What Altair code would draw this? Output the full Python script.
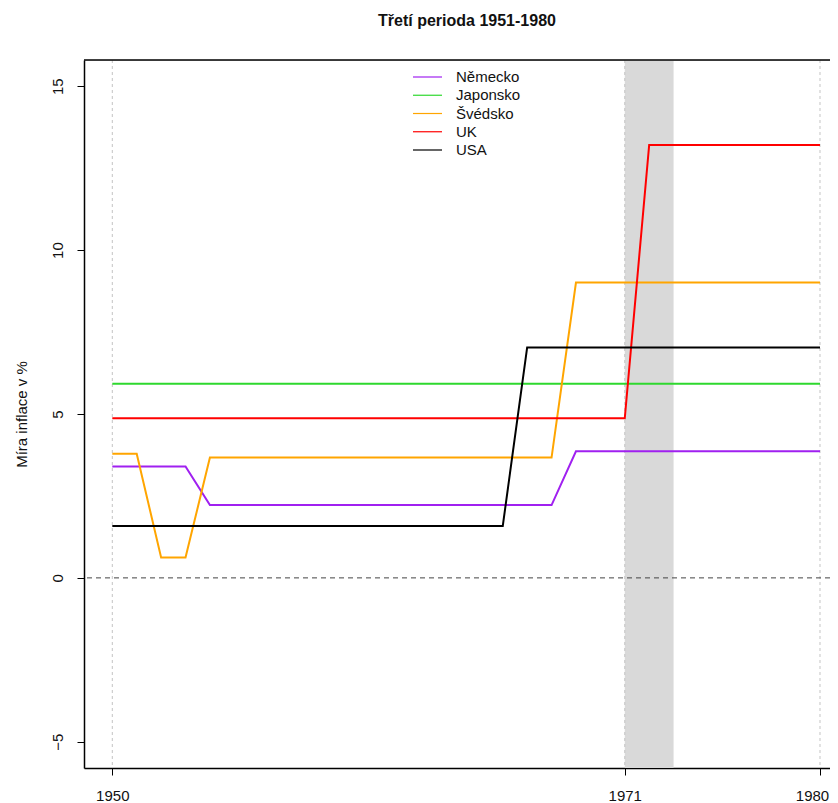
import altair as alt
import pandas as pd

# ---- data ----
countries = ["Německo", "Japonsko", "Švédsko", "UK", "USA"]
colors = ["#A020F0", "#2ED82E", "#FFA500", "#FF0000", "#000000"]

period_index = [0, 1, 2, 3, 4, 5, 6, 7, 8, 9, 10, 11, 12, 13, 14,
                15, 16, 17, 18, 19, 20, 21, 22, 23, 24, 25, 26, 27, 28, 29]

nemecko = [3.40, 3.40, 3.40, 3.40, 2.22, 2.22, 2.22, 2.22, 2.22, 2.22,
           2.22, 2.22, 2.22, 2.22, 2.22, 2.22, 2.22, 2.22, 2.22, 3.86,
           3.86, 3.86, 3.86, 3.86, 3.86, 3.86, 3.86, 3.86, 3.86, 3.86]
japonsko = [5.92, 5.92, 5.92, 5.92, 5.92, 5.92, 5.92, 5.92, 5.92, 5.92,
            5.92, 5.92, 5.92, 5.92, 5.92, 5.92, 5.92, 5.92, 5.92, 5.92,
            5.92, 5.92, 5.92, 5.92, 5.92, 5.92, 5.92, 5.92, 5.92, 5.92]
svedsko = [3.79, 3.79, 0.62, 0.62, 3.67, 3.67, 3.67, 3.67, 3.67, 3.67,
           3.67, 3.67, 3.67, 3.67, 3.67, 3.67, 3.67, 3.67, 3.67, 9.01,
           9.01, 9.01, 9.01, 9.01, 9.01, 9.01, 9.01, 9.01, 9.01, 9.01]
uk = [4.87, 4.87, 4.87, 4.87, 4.87, 4.87, 4.87, 4.87, 4.87, 4.87,
      4.87, 4.87, 4.87, 4.87, 4.87, 4.87, 4.87, 4.87, 4.87, 4.87,
      4.87, 4.87, 13.21, 13.21, 13.21, 13.21, 13.21, 13.21, 13.21, 13.21]
usa = [1.58, 1.58, 1.58, 1.58, 1.58, 1.58, 1.58, 1.58, 1.58, 1.58,
       1.58, 1.58, 1.58, 1.58, 1.58, 1.58, 1.58, 7.03, 7.03, 7.03,
       7.03, 7.03, 7.03, 7.03, 7.03, 7.03, 7.03, 7.03, 7.03, 7.03]

xtick_pos = [0, 21, 29]
xtick_labels = ["1950", "1971", "1980"]
ytick_vals = [-5, 0, 5, 10, 15]
band_start = [21]
band_end = [23]
vline_pos = [0, 21, 29]
hline_pos = [0]

title_text = "Třetí perioda 1951-1980"
ytitle_text = "Míra inflace v %"

# ---- layout ----
W, H = 746, 708
FONT = "Liberation Sans"

series = [nemecko, japonsko, svedsko, uk, usa]
rows = []
for name, vals in zip(countries, series):
    for i, v in zip(period_index, vals):
        rows.append({"country": name, "idx": i, "value": v})
df = pd.DataFrame(rows)

xscale = alt.Scale(domain=[-1.16, 29.41], nice=False, zero=False)
yscale = alt.Scale(domain=[-5.8, 15.8], nice=False, zero=False)
cscale = alt.Scale(domain=countries, range=colors)

label_expr = " : ".join(
    f"datum.value == {p} ? '{l}'" for p, l in zip(xtick_pos[:-1], xtick_labels[:-1])
) + f" : '{xtick_labels[-1]}'"

xaxis = alt.Axis(values=xtick_pos, labelExpr=label_expr, grid=False, tickSize=7,
                 labelPadding=13, labelFontSize=15, labelFont=FONT, labelColor="#111",
                 domainColor="black", domainWidth=1.5, tickColor="black", tickWidth=1,
                 labelBaseline="top", labelFlush=False, labelOverlap=False,
                 labelOffset={"condition": {"test": f"datum.value == {xtick_pos[-1]}", "value": -8},
                              "value": 0},
                 title=None)
yaxis = alt.Axis(values=ytick_vals, grid=False, tickSize=7, labelAngle=270,
                 labelAlign="center", labelBaseline="alphabetic", labelPadding=15,
                 labelFontSize=15, labelFont=FONT, labelColor="#111",
                 domainColor="black", domainWidth=1.5, tickColor="black", tickWidth=1,
                 title=ytitle_text, titleFont=FONT, titleFontSize=15, titleFontWeight="normal",
                 titleColor="#111", titleAngle=270, titleX=-63, titleY=H / 2,
                 titleAlign="center", titleBaseline="middle")


def X(field):
    return alt.X(field, type="quantitative", scale=xscale, axis=xaxis)


def Y(field):
    return alt.Y(field, type="quantitative", scale=yscale, axis=yaxis)


band = alt.Chart(pd.DataFrame({"x1": band_start, "x2": band_end})).mark_rect(
    color="#D9D9D9", clip=True
).encode(x=X("x1"), x2="x2", y=alt.value(0), y2=alt.value(H))

vlines = alt.Chart(pd.DataFrame({"x": vline_pos})).mark_rule(
    color="#C4C4C4", strokeDash=[3, 3], strokeWidth=1, clip=True
).encode(x=X("x"))

hline = alt.Chart(pd.DataFrame({"y": hline_pos})).mark_rule(
    color="#444444", strokeDash=[5, 4], strokeWidth=1, clip=True
).encode(y=Y("y"))

lines = alt.Chart(df).mark_line(strokeWidth=2, clip=True).encode(
    x=X("idx"),
    y=Y("value"),
    color=alt.Color("country:N", scale=cscale, legend=None),
    order=alt.Order("idx:Q"),
)

top_border = alt.Chart(pd.DataFrame({"k": [0]})).mark_rule(
    color="black", strokeWidth=1.5
).encode(x=alt.value(0), x2=alt.value(W), y=alt.value(0))

main = alt.layer(band, vlines, hline, lines, top_border)

leg_df = pd.DataFrame({"country": countries})
leg_y = alt.Y("country:N", scale=alt.Scale(type="point", domain=countries, range=[17, 90], padding=0),
              axis=None)
leg_rules = alt.Chart(leg_df).mark_rule(strokeWidth=1.2).encode(
    x=alt.value(329), x2=alt.value(358), y=leg_y,
    color=alt.Color("country:N", scale=cscale, legend=None),
)
leg_text = alt.Chart(leg_df).mark_text(
    align="left", baseline="middle", font=FONT, fontSize=15, color="#111"
).encode(x=alt.value(372), y=leg_y, text="country:N")
legend = alt.layer(leg_rules, leg_text)

chart = alt.layer(main, legend).resolve_scale(y="independent").properties(
    width=W, height=H,
    title=alt.TitleParams(title_text, font=FONT, fontSize=16, fontWeight="bold",
                          color="#111", anchor="middle", dx=10, offset=17,
                          baseline="alphabetic"),
    autosize=alt.AutoSizeParams(type="none"),
    padding={"left": 76, "top": 52, "right": 0, "bottom": 35},
).configure_view(stroke=None).configure(background="white")

chart.save("out.html", embed_options={"renderer": "svg", "actions": False})
